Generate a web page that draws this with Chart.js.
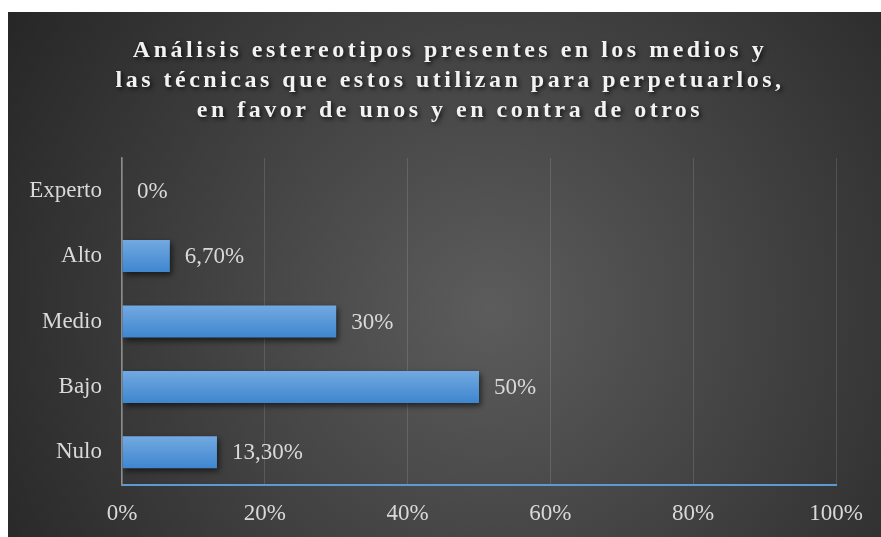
<!DOCTYPE html>
<html>
<head>
<meta charset="utf-8">
<script src="https://cdn.jsdelivr.net/npm/chart.js@4"></script>
<style>
  html, body { margin: 0; padding: 0; background: #ffffff; }
  #wrap { width: 881px; height: 537px; position: relative; }
</style>
</head>
<body>
<div id="wrap"><canvas id="c" width="881" height="537"></canvas></div>
<script>
// ---- data ----
const categories = ['Experto', 'Alto', 'Medio', 'Bajo', 'Nulo'];
const values = [0, 6.7, 30, 50, 13.3];
const valueLabels = ['0%', '6,70%', '30%', '50%', '13,30%'];
const xTickValues = [0, 20, 40, 60, 80, 100];
const titleLines = [
  'Análisis estereotipos presentes en los medios y',
  'las técnicas que estos utilizan para perpetuarlos,',
  'en favor de unos y en contra de otros'
];

const SERIF = "'Liberation Serif', 'Times New Roman', serif";

const bgPlugin = {
  id: 'bg',
  beforeDraw(chart) {
    const ctx = chart.ctx;
    ctx.save();
    ctx.fillStyle = '#ffffff';
    ctx.fillRect(0, 0, chart.width, chart.height);
    const g = ctx.createRadialGradient(490, 310, 0, 490, 310, 570);
    g.addColorStop(0, '#5c5c5c');
    g.addColorStop(1, '#262626');
    ctx.fillStyle = g;
    ctx.fillRect(8, 12, chart.width - 8, chart.height - 12);
    ctx.restore();
  }
};

const titleStylePlugin = {
  id: 'titleStyle',
  afterLayout(chart) {
    const tb = chart.titleBlock;
    if (!tb || tb._wrapped) return;
    const orig = tb.draw.bind(tb);
    tb.draw = function () {
      const ctx = chart.ctx;
      ctx.save();
      ctx.translate(32, 0);
      ctx.letterSpacing = '3.5px';
      ctx.shadowColor = 'rgba(0,0,0,0.75)';
      ctx.shadowBlur = 4;
      ctx.shadowOffsetX = 2;
      ctx.shadowOffsetY = 2;
      orig();
      ctx.restore();
    };
    tb._wrapped = true;
  }
};

const barShadowPlugin = {
  id: 'barShadow',
  beforeDatasetsDraw(chart) {
    const ctx = chart.ctx;
    ctx.save();
    ctx.shadowColor = 'rgba(0,0,0,0.6)';
    ctx.shadowBlur = 6;
    ctx.shadowOffsetX = 2;
    ctx.shadowOffsetY = 3;
  },
  afterDatasetsDraw(chart) {
    const ctx = chart.ctx;
    ctx.restore();
    const meta = chart.getDatasetMeta(0);
    ctx.save();
    ctx.font = '23px ' + SERIF;
    ctx.fillStyle = '#d9d9d9';
    ctx.textAlign = 'left';
    ctx.textBaseline = 'middle';
    meta.data.forEach((bar, i) => {
      ctx.fillText(valueLabels[i], bar.x + 15, bar.y + 1);
    });
    ctx.restore();
  }
};

function barGradient(context) {
  const chart = context.chart;
  const y = chart.scales && chart.scales.y;
  if (!chart.chartArea || !y) return '#5b9bd5';
  const c = y.getPixelForValue(context.dataIndex);
  const g = chart.ctx.createLinearGradient(0, c - 16, 0, c + 16);
  g.addColorStop(0, '#72a9e1');
  g.addColorStop(1, '#3f86cf');
  return g;
}

new Chart(document.getElementById('c'), {
  type: 'bar',
  data: {
    labels: categories,
    datasets: [{
      data: values,
      backgroundColor: barGradient,
      borderWidth: 0,
      barPercentage: 0.49,
      categoryPercentage: 1.0
    }]
  },
  plugins: [bgPlugin, titleStylePlugin, barShadowPlugin],
  options: {
    responsive: false,
    animation: false,
    indexAxis: 'y',
    layout: { padding: { left: 0, right: 45, top: 12, bottom: 0 } },
    plugins: {
      legend: { display: false },
      tooltip: { enabled: false },
      title: {
        display: true,
        text: titleLines,
        color: '#f2f2f2',
        font: { family: SERIF, size: 24, weight: 'bold', lineHeight: '30px' },
        padding: { top: 24, bottom: 32 }
      }
    },
    scales: {
      x: {
        min: 0,
        max: 100,
        afterBuildTicks(scale) { scale.ticks = xTickValues.map(v => ({ value: v })); },
        ticks: {
          color: '#d9d9d9',
          font: { family: SERIF, size: 23 },
          padding: 15,
          maxRotation: 0,
          callback: v => v + '%'
        },
        grid: { color: 'rgba(255,255,255,0.13)', lineWidth: 1, drawTicks: false },
        border: { color: '#5b9bd5', width: 2 },
        afterFit(scale) { scale.height = 52; }
      },
      y: {
        ticks: {
          color: '#d9d9d9',
          font: { family: SERIF, size: 23 },
          padding: 20
        },
        grid: { display: false, drawTicks: false },
        border: { color: '#8c8c8c', width: 1.5 },
        afterFit(scale) { scale.width = 122; }
      }
    }
  }
});
</script>
</body>
</html>
